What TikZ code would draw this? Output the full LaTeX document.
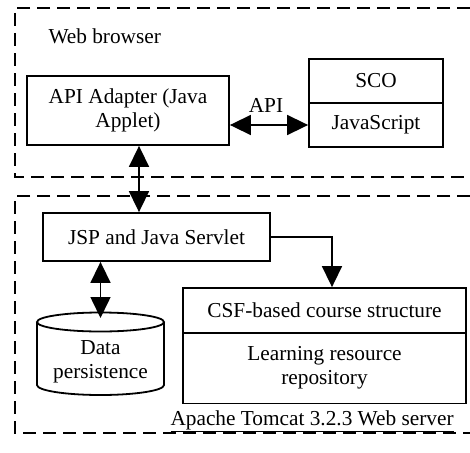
\documentclass[tikz,border=0pt]{standalone}
\usepackage{fontspec}
\setmainfont{Liberation Serif}
\usetikzlibrary{arrows.meta,calc}
\begin{document}
\begin{tikzpicture}[x=1pt,y=-1pt,
  every node/.style={font=\fontsize{21.3}{24}\selectfont},
  box/.style={draw,line width=1.8pt,inner sep=0pt,align=center},
  zone/.style={line width=1.6pt,dash pattern=on 13pt off 7pt},
  arr/.style={line width=1.6pt,{Triangle[length=21pt,width=20pt]}-{Triangle[length=21pt,width=20pt]}},
  arrone/.style={line width=1.6pt,-{Triangle[length=21pt,width=20pt]}}]
\useasboundingbox (0,0) rectangle (470,452);
% zones
\draw[zone] (470,8) -- (15,8) -- (15,177) -- (470,177);
\draw[zone] (470,196) -- (15,196) -- (15,433) -- (470,433);
\node[anchor=base west] (web) at (45,44) {Web browser};
\node[anchor=base west] (tomcat) at (167,425) {\underline{Apache Tomcat 3.2.3 Web server}};
% boxes
\node[box,minimum width=202pt,minimum height=69pt] (api) at (128,110.5) {API Adapter (Java\\Applet)};
\node[box,minimum width=134pt,minimum height=44pt] (sco) at (376,81) {SCO};
\node[box,minimum width=134pt,minimum height=44pt] (js) at (376,125) {JavaScript};
\node[box,minimum width=227pt,minimum height=48pt] (jsp) at (156.5,237) {JSP and Java Servlet};
\node[box,minimum width=283pt,minimum height=45pt] (csf) at (324.5,310.5) {CSF-based course structure};
\node[box,minimum width=283pt,minimum height=71pt] (lrr) at (324.5,368) {Learning resource\\repository};
% cylinder
\draw[line width=1.8pt] (37,322) -- (37,385) arc[start angle=180,end angle=360,x radius=63.5pt,y radius=10pt] -- (164,322);
\draw[line width=1.8pt] (100.5,322) ellipse [x radius=63.5pt,y radius=9.5pt];
\node[align=center,inner sep=0pt] (db) at (100.5,362) {Data\\persistence};
\coordinate (dbtop) at (100.5,318);
% API label
\node[anchor=base] (apil) at (266,112) {API};
% connectors
\draw[arr] (js.west -| api.east) -- (js.west);
\draw[arr] ([xshift=11pt]api.south) -- ([xshift=11pt]api.south |- jsp.north);
\draw[arr] (jsp.south -| dbtop) -- (dbtop);
\draw[arrone] (jsp.east) -| ([xshift=7.5pt]csf.north);
\end{tikzpicture}
\end{document}
